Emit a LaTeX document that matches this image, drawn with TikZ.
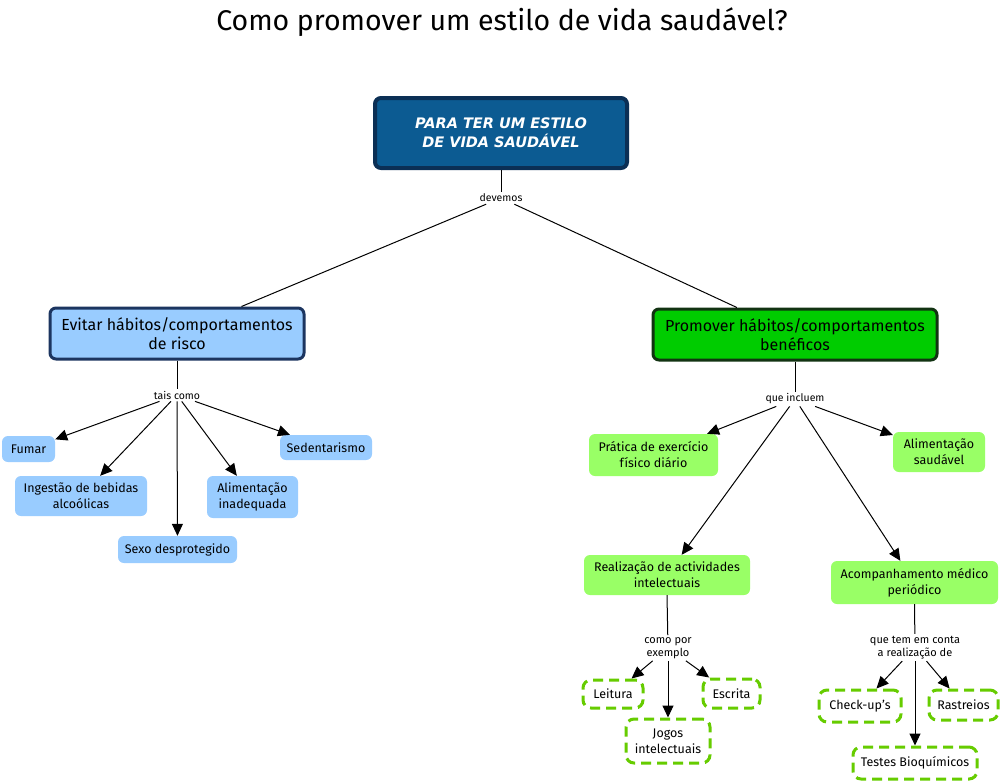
\documentclass[tikz,border=0pt]{standalone}
\usepackage{fontspec}
\setmainfont{Fira Sans}
\newfontfamily\topfont{DejaVu Sans}
\usetikzlibrary{arrows.meta}
\definecolor{topfill}{HTML}{0C5B92}
\definecolor{topdraw}{HTML}{0B2F55}
\definecolor{lblue}{HTML}{99CCFF}
\definecolor{lbdraw}{HTML}{1C3560}
\definecolor{mgreen}{HTML}{00CC00}
\definecolor{mgdraw}{HTML}{123312}
\definecolor{lgreen}{HTML}{99FF66}
\definecolor{dgreen}{HTML}{66CC00}
\tikzset{
  mainbox/.style={rounded corners=6pt, line width=3pt, align=center, inner sep=3pt,
    font=\fontsize{16}{19}\selectfont},
  bluebox/.style={rounded corners=6pt, fill=lblue, align=center, inner sep=3pt,
    font=\fontsize{12.5}{16}\selectfont},
  greenbox/.style={rounded corners=6pt, fill=lgreen, align=center, inner sep=3pt,
    font=\fontsize{12.5}{16}\selectfont},
  dashbox/.style={rounded corners=8pt, draw=dgreen, line width=3pt, dash pattern=on 10pt off 6pt,
    fill=white, align=center, inner sep=3pt, font=\fontsize{12.5}{16}\selectfont},
  lbl/.style={align=center, inner sep=2pt, font=\fontsize{10.5}{13}\selectfont},
  conn/.style={line width=1pt, draw=black},
  arr/.style={line width=1pt, draw=black, -{Triangle[length=12pt,width=11pt]}}
}
\begin{document}
\begin{tikzpicture}[x=1pt,y=-1pt]
\useasboundingbox[fill=white] (0,0) rectangle (1000,780);
\node[font=\fontsize{28.5}{32}\selectfont] (title) at (502,22) {Como promover um estilo de vida saudável?};

\node[mainbox, draw=topdraw, fill=topfill, line width=4pt, text=white, minimum width=252, minimum height=70,
  font=\topfont\bfseries\itshape\fontsize{14.5}{19}\selectfont] (top) at (501,133)
  {PARA TER UM ESTILO\\DE VIDA SAUDÁVEL};
\node[lbl] (devemos) at (501,198) {devemos};

\node[mainbox, draw=lbdraw, fill=lblue, minimum width=254, minimum height=51] (left) at (177,333.5)
  {Evitar hábitos/comportamentos\\de risco};
\node[mainbox, draw=mgdraw, fill=mgreen, minimum width=284, minimum height=51] (right) at (795,334.5)
  {Promover hábitos/comportamentos\\benéficos};

\node[lbl] (tais) at (177,395) {tais como};
\node[lbl] (incluem) at (795,399) {que incluem};

\node[bluebox, minimum width=53, minimum height=26] (fumar) at (28.5,449) {Fumar};
\node[bluebox, minimum width=132, minimum height=40] (ingestao) at (81,496) {Ingestão de bebidas\\alcoólicas};
\node[bluebox, minimum width=119, minimum height=27] (sexo) at (177.5,549.5) {Sexo desprotegido};
\node[bluebox, minimum width=91, minimum height=42] (alimin) at (252.5,497) {Alimentação\\inadequada};
\node[bluebox, minimum width=92, minimum height=25] (sedent) at (326,447.5) {Sedentarismo};

\node[greenbox, minimum width=129, minimum height=42] (pratica) at (653.5,455) {Prática de exercício\\físico diário};
\node[greenbox, minimum width=92, minimum height=40] (alimsaud) at (939,452) {Alimentação\\saudável};
\node[greenbox, minimum width=166, minimum height=40] (realiz) at (667,575) {Realização de actividades\\intelectuais};
\node[greenbox, minimum width=167, minimum height=43] (acomp) at (914.5,582.5) {Acompanhamento médico\\periódico};

\node[lbl, font=\fontsize{11}{13}\selectfont] (comopor) at (668,648) {como por\\exemplo};
\node[lbl, font=\fontsize{11}{13}\selectfont] (quetem) at (915,647.5) {que tem em conta\\a realização de};

\node[dashbox, minimum width=60, minimum height=28] (leitura) at (613,694) {Leitura};
\node[dashbox, minimum width=57, minimum height=29] (escrita) at (731.5,693.5) {Escrita};
\node[dashbox, minimum width=84, minimum height=44] (jogos) at (668,741) {Jogos\\intelectuais};
\node[dashbox, minimum width=82, minimum height=32] (checkup) at (860,706) {Check-up's};
\node[dashbox, minimum width=69, minimum height=30] (rastreios) at (963.5,705) {Rastreios};
\node[dashbox, minimum width=124, minimum height=32] (testes) at (915,763) {Testes Bioquímicos};

\draw[conn] (top) -- (devemos);
\draw[conn] (devemos) -- (left);
\draw[conn] (devemos) -- (right);
\draw[conn] (left) -- (tais);
\draw[conn] (right) -- (incluem);
\draw[conn] (realiz.south) -- (comopor);
\draw[conn] (acomp.south) -- (quetem);

\draw[arr] (tais) -- (fumar);
\draw[arr] (tais) -- (ingestao);
\draw[arr] (tais) -- (sexo);
\draw[arr] (tais) -- (alimin);
\draw[arr] (tais) -- (sedent);

\draw[arr] (incluem) -- (pratica);
\draw[arr] (incluem) -- (alimsaud);
\draw[arr] (incluem) -- (realiz);
\draw[arr] (incluem) -- (acomp);

\draw[arr] (comopor) -- (leitura);
\draw[arr] (comopor) -- (escrita);
\draw[arr] (comopor) -- (jogos);
\draw[arr] (quetem) -- (checkup);
\draw[arr] (quetem) -- (rastreios);
\draw[arr] (quetem) -- (testes);
\end{tikzpicture}
\end{document}
